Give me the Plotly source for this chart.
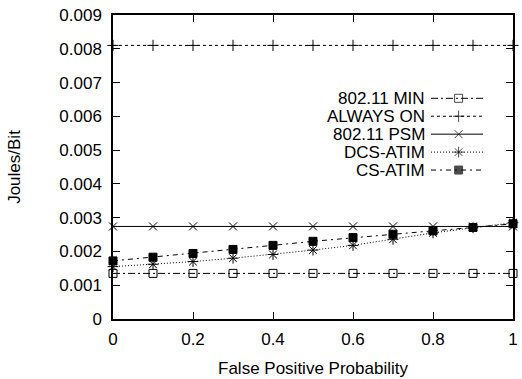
import plotly.graph_objects as go

# ---- data ----
fp_prob = [0.0, 0.1, 0.2, 0.3, 0.4, 0.5, 0.6, 0.7, 0.8, 0.9, 1.0]
min_80211 = [0.00135] * 11
always_on = [0.0081] * 11
psm_80211 = [0.00274] * 11
dcs_atim = [0.00155, 0.00162, 0.00170, 0.00180, 0.00191, 0.00204, 0.00218, 0.00236, 0.00255, 0.00270, 0.00285]
cs_atim = [0.00172, 0.00183, 0.00194, 0.00206, 0.00218, 0.00230, 0.00241, 0.00251, 0.00261, 0.00271, 0.00282]

series_names = ["802.11 MIN", "ALWAYS ON", "802.11 PSM", "DCS-ATIM", "CS-ATIM"]
series_values = [min_80211, always_on, psm_80211, dcs_atim, cs_atim]

x_tickvals = [0, 0.2, 0.4, 0.6, 0.8, 1.0]
x_ticktext = ["0", "0.2", "0.4", "0.6", "0.8", "1"]
y_tickvals = [0, 0.001, 0.002, 0.003, 0.004, 0.005, 0.006, 0.007, 0.008, 0.009]
y_ticktext = ["0", "0.001", "0.002", "0.003", "0.004", "0.005", "0.006", "0.007", "0.008", "0.009"]

# ---- styles ----
styles = [
    dict(symbol="square-open", size=8, dash="7px,3px,2px,3px"),
    dict(symbol="cross-thin-open", size=8, dash="3px,3px"),
    dict(symbol="x-thin-open", size=8, dash="solid"),
    dict(symbol="asterisk-open", size=9, dash="1px,2px"),
    dict(symbol="square", size=8, dash="5px,4px,2px,4px"),
]

FONT = "Liberation Sans, Arial, Helvetica, sans-serif"
FS = 17

fig = go.Figure()
for name, vals, st in zip(series_names, series_values, styles):
    fig.add_trace(go.Scatter(
        x=fp_prob, y=vals, mode="lines+markers", name=name, showlegend=False,
        line=dict(color="black", width=1, dash=st["dash"]),
        marker=dict(symbol=st["symbol"], size=st["size"], color="black",
                    line=dict(color="black", width=1)),
        cliponaxis=False,
    ))

# ---- custom gnuplot-style legend (text left, sample right) ----
leg_text_x = 0.785
leg_x0, leg_xm, leg_x1 = 0.795, 0.864, 0.925
leg_y0 = 0.726
leg_dy = 0.059
for i, (name, st) in enumerate(zip(series_names, styles)):
    yy = leg_y0 - i * leg_dy
    fig.add_trace(go.Scatter(
        x=[leg_x0, leg_xm, leg_x1], y=[yy, yy, yy], mode="lines+markers",
        xaxis="x2", yaxis="y2", showlegend=False, hoverinfo="skip",
        line=dict(color="black", width=1, dash=st["dash"]),
        marker=dict(symbol=st["symbol"], size=[0, st["size"], 0], color="black",
                    line=dict(color="black", width=1)),
    ))
    fig.add_annotation(x=leg_text_x, y=yy, xref="x2", yref="y2", text=name,
                       showarrow=False, xanchor="right", yanchor="middle",
                       font=dict(family=FONT, size=FS, color="black"))

axis_common = dict(showline=True, linecolor="black", linewidth=1.5, mirror="ticks",
                   ticks="inside", ticklen=7, tickcolor="black", tickwidth=1,
                   showgrid=False, zeroline=False,
                   tickfont=dict(family=FONT, size=FS, color="black"))

fig.update_layout(
    width=522, height=379,
    margin=dict(l=113, r=4, t=15, b=56),
    paper_bgcolor="white", plot_bgcolor="white",
    font=dict(family=FONT, size=FS, color="black"),
    xaxis=dict(range=[0, 1], tickvals=x_tickvals, ticktext=x_ticktext,
               ticklabelstandoff=4,
               title=dict(text="False Positive Probability", standoff=14,
                          font=dict(family=FONT, size=FS)),
               **axis_common),
    yaxis=dict(range=[0, 0.009], tickvals=y_tickvals, ticktext=y_ticktext,
               ticklabelstandoff=6,
               title=dict(text="Joules/Bit", standoff=34,
                          font=dict(family=FONT, size=FS)),
               **axis_common),
    xaxis2=dict(range=[0, 1], overlaying="x", visible=False, fixedrange=True),
    yaxis2=dict(range=[0, 1], overlaying="y", visible=False, fixedrange=True),
    showlegend=False,
)

fig.write_html("out.html")
